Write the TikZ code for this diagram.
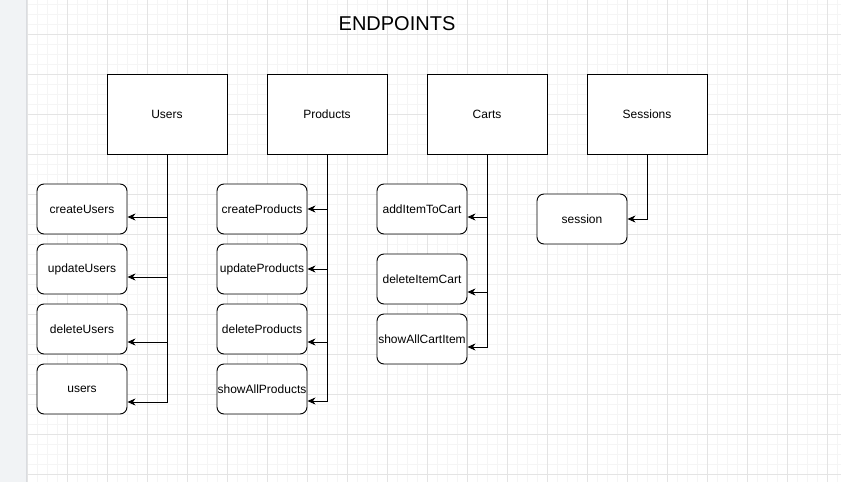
\documentclass[tikz,border=0pt]{standalone}
\usepackage{fontspec}
\setmainfont{Liberation Sans}
\usetikzlibrary{arrows.meta}
\definecolor{gridmajor}{HTML}{E4E4E4}
\definecolor{gridminor}{HTML}{F5F5F5}
\definecolor{sidebar}{HTML}{F1F3F5}
\definecolor{sideline}{HTML}{DADCE0}
\tikzset{>=stealth}
\tikzset{
  group/.style={draw, line width=0.9pt, minimum width=120pt, minimum height=80pt, inner sep=0pt, font=\fontsize{12}{14}\selectfont},
  endpoint/.style={draw, line width=0.9pt, rounded corners=7pt, minimum width=90pt, minimum height=50pt, inner sep=0pt, font=\fontsize{12}{14}\selectfont},
  link/.style={-{Stealth[length=8pt,width=7pt,inset=2.5pt]}, line width=0.9pt}
}

\begin{document}
\begin{tikzpicture}[x=1pt,y=-1pt]
      \useasboundingbox (0,0) rectangle (841,482);
      \fill[white] (0,0) rectangle (841,482);
      \foreach \x in {27,37,...,837} \draw[gridminor, line width=0.8pt] (\x,0) -- (\x,482);
      \foreach \y in {4,14,...,474} \draw[gridminor, line width=0.8pt] (26,\y) -- (841,\y);
      \foreach \x in {27,67,...,827} \draw[gridmajor, line width=0.9pt] (\x,0) -- (\x,482);
      \foreach \y in {34,74,...,474} \draw[gridmajor, line width=0.9pt] (26,\y) -- (841,\y);
      \fill[sidebar] (0,0) rectangle (26,482);
      \draw[sideline, line width=0.8pt] (26,0) -- (26,482);

      \node[font=\fontsize{20}{24}\selectfont] (title) at (397,24) {ENDPOINTS};

      \node[group, fill=white] (users) at (167,114) {Users};
      \node[group, fill=white] (products) at (327,114) {Products};
      \node[group, fill=white] (carts) at (487,114) {Carts};
      \node[group, fill=white] (sessions) at (647,114) {Sessions};

      \node[endpoint, fill=white] (createUsers) at (82,209) {createUsers};
      \node[endpoint, fill=white] (updateUsers) at (82,269) {updateUsers};
      \node[endpoint, fill=white] (deleteUsers) at (82,329) {deleteUsers};
      \node[endpoint, fill=white] (listUsers) at (82,389) {users};

      \node[endpoint, fill=white] (createProducts) at (262,209) {createProducts};
      \node[endpoint, fill=white] (updateProducts) at (262,269) {updateProducts};
      \node[endpoint, fill=white] (deleteProducts) at (262,329) {deleteProducts};
      \node[endpoint, fill=white] (showAllProducts) at (262,389) {showAllProducts};

      \node[endpoint, fill=white] (addItemToCart) at (422,209) {addItemToCart};
      \node[endpoint, fill=white] (deleteItemCart) at (422,279) {deleteItemCart};
      \node[endpoint, fill=white] (showAllCartItem) at (422,339) {showAllCartItem};

      \node[endpoint, fill=white] (session) at (582,219) {session};

      \draw[link] (users.south) |- ([yshift=-8pt]createUsers.east);
      \draw[link] (users.south) |- ([yshift=-8pt]updateUsers.east);
      \draw[link] (users.south) |- ([yshift=-13pt]deleteUsers.east);
      \draw[link] (users.south) |- ([yshift=-13pt]listUsers.east);

      \draw[link] (products.south) |- (createProducts.east);
      \draw[link] (products.south) |- (updateProducts.east);
      \draw[link] (products.south) |- ([yshift=-13pt]deleteProducts.east);
      \draw[link] (products.south) |- ([yshift=-12pt]showAllProducts.east);

      \draw[link] (carts.south) |- ([yshift=-8pt]addItemToCart.east);
      \draw[link] (carts.south) |- ([yshift=-13pt]deleteItemCart.east);
      \draw[link] (carts.south) |- ([yshift=-8pt]showAllCartItem.east);

      \draw[link] (sessions.south) |- (session.east);
\end{tikzpicture}
\end{document}
